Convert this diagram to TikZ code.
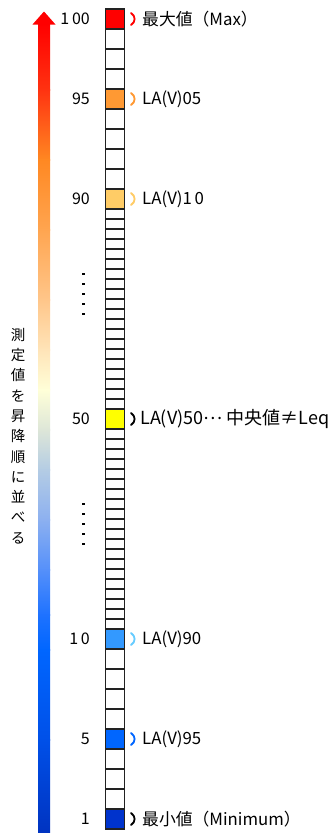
\documentclass[tikz,border=0pt]{standalone}
\usepackage{fontspec}
\setmainfont{Noto Sans CJK JP}
\definecolor{cellline}{HTML}{222222}
\definecolor{cRed}{HTML}{FF0000}
\definecolor{cOrange}{HTML}{FF9933}
\definecolor{cLOrange}{HTML}{FFCC66}
\definecolor{cYellow}{HTML}{FFFF00}
\definecolor{cLBlue}{HTML}{3399FF}
\definecolor{cBlue}{HTML}{0066FF}
\definecolor{cDBlue}{HTML}{0033CC}
\definecolor{pLBlue}{HTML}{66CCFF}
\begin{document}
\begin{tikzpicture}[x=1pt,y=-1pt,
  cell/.style={draw=cellline, line width=1.2pt, minimum width=19pt, minimum height=20pt, inner sep=0pt, outer sep=0pt},
  scell/.style={cell, minimum height=10pt},
  lab/.style={anchor=west, inner sep=0pt, font=\fontsize{16.8}{17}\selectfont},
  labbig/.style={anchor=west, inner sep=0pt, font=\fontsize{18}{18}\selectfont},
  num/.style={anchor=east, inner sep=0pt, font=\fontsize{16}{16}\selectfont},
  vtext/.style={align=center, inner sep=0pt, font=\fontsize{14.5}{20.3}\selectfont},
  dotmark/.style={fill=black},
  paren/.style={line width=1.8pt, line cap=round}]
\useasboundingbox (0,0) rectangle (333,833);
\fill[white] (0,0) rectangle (333,833);

% gradient arrow
\foreach \ya/\ca/\yb/\cb in {24/FF0000/90/FF3311, 90/FF3311/160/FF8822, 160/FF8822/230/FFA550, 230/FFA550/300/FFC68A, 300/FFC68A/350/FFE4B8, 350/FFE4B8/390/FFFFD8, 390/FFFFD8/430/DDE6D8, 430/DDE6D8/470/B4CCE4, 470/B4CCE4/520/8CB0F0, 520/8CB0F0/570/5590FA, 570/5590FA/615/1E72FF, 615/1E72FF/650/0066FF, 650/0066FF/740/0050E8, 740/0050E8/833/0033C0}{
  \definecolor{ga}{HTML}{\ca}\definecolor{gb}{HTML}{\cb}
  \shade[top color=ga, bottom color=gb] (38,\ya-0.4) rectangle (50,\yb+0.4);
}
\fill[cRed] (32.5,24.5) -- (44,11.5) -- (55.5,24.5) -- cycle;

% vertical text
\node[vtext] (vt) at (18,436) {測\\定\\値\\を\\昇\\降\\順\\に\\並\\べ\\る};

% dots
\foreach \y in {274,284,294,304,314,504,514,524,534,544}
  \fill[dotmark] (82.4,\y-1) rectangle (84.6,\y+1);

% column cells
\node[cell, fill=cRed] (c100) at (115,19) {};
\foreach \i/\y in {1/39,2/59,3/79} \node[cell] (wa\i) at (115,\y) {};
\node[cell, fill=cOrange] (c95) at (115,99) {};
\foreach \i/\y in {1/119,2/139,3/159,4/179} \node[cell] (wb\i) at (115,\y) {};
\node[cell, fill=cLOrange] (c90) at (115,199) {};
\foreach \k in {0,...,19} \node[scell] (sa\k) at (115,214+10*\k) {};
\node[cell, fill=cYellow] (c50) at (115,419) {};
\foreach \k in {0,...,19} \node[scell] (sb\k) at (115,434+10*\k) {};
\node[cell, fill=cLBlue] (c10) at (115,639) {};
\foreach \i/\y in {1/659,2/679,3/699,4/719} \node[cell] (wc\i) at (115,\y) {};
\node[cell, fill=cBlue] (c5) at (115,739) {};
\foreach \i/\y in {1/759,2/779,3/799} \node[cell] (wd\i) at (115,\y) {};
\node[cell, fill=cDBlue] (c1) at (115,819) {};

% numbers
\node[num] (n100) at (90,19) {1\,00};
\node[num] (n95) at (90,99) {95};
\node[num] (n90) at (90,199) {90};
\node[num] (n50) at (90,419) {50};
\node[num] (n10) at (90,639) {1\,0};
\node[num] (n5) at (90,739) {5};
\node[num] (n1) at (90,819) {1};

% brackets
\foreach \c/\col in {19/cRed, 99/cOrange, 199/cLOrange, 419/black, 639/pLBlue, 739/cBlue, 819/black}
  \draw[paren, \col] (131,\c-6) .. controls (135.8,\c-3) and (135.8,\c+3) .. (131,\c+6);

% labels
\node[lab] (l100) at (142,19) {最大値（Max）};
\node[lab] (l95) at (142,99) {LA(V)05};
\node[lab] (l90) at (142,199) {LA(V)1\,0};
\node[labbig] (l50) at (140,419) {LA(V)50\raisebox{0.3em}{…}\ 中央値≠Leq};
\node[lab] (l10) at (142,639) {LA(V)90};
\node[lab] (l5) at (142,739) {LA(V)95};
\node[lab] (l1) at (142,819) {最小値（Minimum）};
\end{tikzpicture}
\end{document}
